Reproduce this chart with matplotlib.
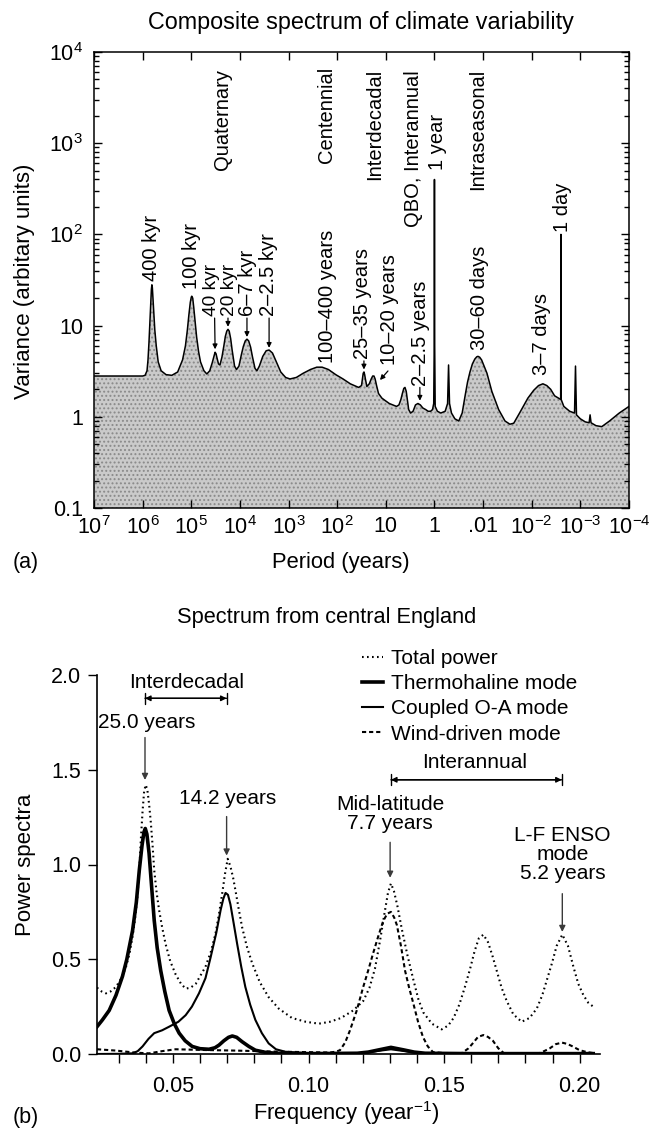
import matplotlib
matplotlib.use("Agg")
import matplotlib.pyplot as plt
import numpy as np
from matplotlib.ticker import FixedLocator, NullLocator, LogLocator, NullFormatter

plt.rcParams['font.family'] = ['Liberation Sans', 'DejaVu Sans']
plt.rcParams['mathtext.fontset'] = 'custom'
plt.rcParams['mathtext.rm'] = 'Liberation Sans'
plt.rcParams['mathtext.it'] = 'Liberation Sans:italic'
plt.rcParams['mathtext.bf'] = 'Liberation Sans:bold'
plt.rcParams['font.size'] = 14.5
plt.rcParams['hatch.linewidth'] = 0.9

# ---- (a) composite spectrum: log10(period in years) and variance
log_period = [
    7.00, 6.00, 5.95, 5.91, 5.89, 5.87, 5.85, 5.83, 5.82, 5.81, 5.80, 5.79, 5.77,
    5.75, 5.72, 5.68, 5.62, 5.52, 5.40, 5.28, 5.18, 5.12, 5.08, 5.05, 5.02, 5.00,
    4.99, 4.97, 4.95, 4.92, 4.89, 4.85, 4.81, 4.74, 4.68, 4.62, 4.57, 4.54, 4.52,
    4.51, 4.49, 4.47, 4.44, 4.41, 4.37, 4.33, 4.30, 4.27, 4.245, 4.22, 4.19, 4.16,
    4.11, 4.07, 4.02, 3.97, 3.93, 3.89, 3.855, 3.82, 3.78, 3.74, 3.69, 3.65, 3.60,
    3.53, 3.46, 3.40, 3.33, 3.25, 3.16, 3.06, 2.97, 2.84, 2.70, 2.55, 2.42, 2.31,
    2.18, 2.03, 1.88, 1.73, 1.56, 1.50, 1.48, 1.465, 1.449, 1.435, 1.42, 1.39,
    1.34, 1.30, 1.27, 1.244, 1.22, 1.19, 1.15, 1.08, 0.93, 0.78, 0.73, 0.69, 0.66,
    0.63, 0.606, 0.58, 0.555, 0.53, 0.49, 0.44, 0.39, 0.34, 0.29, 0.24, 0.18,
    0.13, 0.08, 0.04, 0.015, 0.005, 0.0, -0.005, -0.015, -0.06, -0.13, -0.22,
    -0.27, -0.29, -0.31, -0.35, -0.42, -0.50, -0.57, -0.63, -0.68, -0.73, -0.78,
    -0.83, -0.87, -0.895, -0.93, -0.97, -1.02, -1.08, -1.18, -1.32, -1.45, -1.55,
    -1.63, -1.75, -1.92, -2.04, -2.14, -2.23, -2.31, -2.39, -2.47, -2.55, -2.595,
    -2.60, -2.605, -2.66, -2.78, -2.88, -2.90, -2.92, -3.00, -3.10, -3.18, -3.20,
    -3.22, -3.32, -3.44, -3.60, -3.80, -4.00,
]
variance = [
    2.8, 2.8, 2.85, 3.2, 4.2, 6.5, 11, 19, 25, 28, 26, 21, 14,
    9, 6, 4, 3.2, 2.9, 2.85, 3.1, 4.2, 6, 9, 13, 18, 20.5,
    21, 20, 16, 11, 7.5, 5.2, 4, 3.2, 2.95, 3.2, 3.9, 4.5, 4.9,
    5.1, 4.9, 4.4, 3.8, 3.7, 4.5, 6.0, 7.6, 8.7, 9.1, 8.7, 7.2, 5.4,
    3.6, 3.3, 3.6, 4.8, 5.9, 6.8, 7.1, 6.8, 5.8, 4.5, 3.4, 3.2, 3.6,
    4.6, 5.3, 5.4, 5.0, 4.0, 3.1, 2.7, 2.6, 2.7, 3.0, 3.3, 3.5, 3.5,
    3.3, 2.9, 2.6, 2.3, 2.1, 2.2, 2.6, 3.0, 3.1, 2.9, 2.6, 2.15,
    2.3, 2.6, 2.8, 2.8, 2.6, 2.2, 1.8, 1.6, 1.4, 1.3, 1.35, 1.55, 1.8,
    2.05, 2.1, 1.9, 1.5, 1.2, 1.1, 1.15, 1.35, 1.4, 1.35, 1.25, 1.2,
    1.15, 1.15, 1.2, 1.4, 6, 400, 6, 1.3, 1.15, 1.1, 1.15,
    1.4, 3.7, 1.4, 1.1, 0.95, 0.9, 1.1, 1.7, 2.4, 3.1, 3.8,
    4.3, 4.55, 4.6, 4.5, 4.2, 3.6, 3.0, 1.9, 1.2, 0.9, 0.83,
    0.85, 1.1, 1.6, 1.95, 2.2, 2.3, 2.2, 2.0, 1.7, 1.6, 1.55,
    100, 1.55, 1.3, 1.15, 1.1, 3.6, 1.05, 0.95, 0.88, 0.86, 1.05,
    0.86, 0.8, 0.78, 0.9, 1.1, 1.3,
]

period_ticks = [7, 6, 5, 4, 3, 2, 1, 0, -1, -2, -3, -4]
period_tick_labels = ['$10^7$', '$10^6$', '$10^5$', '$10^4$', '$10^3$', '$10^2$',
                      '10', '1', '.01', '$10^{-2}$', '$10^{-3}$', '$10^{-4}$']
variance_ticks = [0.1, 1, 10, 100, 1000, 10000]
variance_tick_labels = ['0.1', '1', '10', '$10^2$', '$10^3$', '$10^4$']

# ---- (b) spectrum from central England: frequency (1/yr) and power
freq_total = [
    0.022, 0.0237, 0.0253, 0.027, 0.029, 0.031, 0.0327, 0.034, 0.0351, 0.036,
    0.0369, 0.0376, 0.0382, 0.0388, 0.0394, 0.040, 0.0406, 0.0412, 0.0418, 0.0425,
    0.0431, 0.044, 0.0449, 0.046, 0.0473, 0.049, 0.051, 0.053, 0.0547, 0.0565,
    0.0584, 0.060, 0.062, 0.064, 0.0657, 0.067, 0.0682, 0.0692, 0.0702, 0.0712,
    0.0722, 0.0731, 0.0742, 0.0755, 0.0772, 0.0792, 0.082, 0.0853, 0.089, 0.0939,
    0.099, 0.1038, 0.1079, 0.112, 0.1165, 0.1202, 0.1225, 0.1245, 0.1264, 0.128,
    0.1293, 0.1304, 0.1315, 0.1328, 0.1344, 0.1365, 0.1387, 0.1405, 0.1423, 0.1455,
    0.1491, 0.1515, 0.1535, 0.1556, 0.1576, 0.1596, 0.1612, 0.1628, 0.1645, 0.1662,
    0.1678, 0.1694, 0.1712, 0.1731, 0.1755, 0.1786, 0.1815, 0.1842, 0.1862, 0.1879,
    0.1898, 0.1915, 0.1936, 0.1957, 0.1977, 0.1995, 0.2014, 0.2032, 0.2050,
]
power_total = [
    0.35, 0.33, 0.32, 0.33, 0.354, 0.40, 0.46, 0.53, 0.62, 0.71,
    0.83, 0.97, 1.14, 1.28, 1.39, 1.42, 1.39, 1.32, 1.23, 1.10,
    0.97, 0.85, 0.76, 0.67, 0.58, 0.49, 0.42, 0.37, 0.345, 0.35,
    0.37, 0.41, 0.46, 0.54, 0.635, 0.74, 0.85, 0.95, 1.03, 0.99,
    0.93, 0.86, 0.77, 0.67, 0.57, 0.48, 0.38, 0.30, 0.24, 0.19,
    0.17, 0.16, 0.17, 0.19, 0.23, 0.28, 0.35, 0.45, 0.60, 0.74,
    0.85, 0.90, 0.86, 0.78, 0.66, 0.52, 0.39, 0.29, 0.22, 0.16,
    0.13, 0.15, 0.19, 0.26, 0.35, 0.45, 0.54, 0.61, 0.63, 0.59,
    0.52, 0.44, 0.35, 0.28, 0.21, 0.17, 0.19, 0.24, 0.31, 0.39,
    0.48, 0.57, 0.63, 0.57, 0.46, 0.37, 0.31, 0.27, 0.25,
]

freq_thermo = [
    0.022, 0.024, 0.0265, 0.029, 0.0314, 0.033, 0.0351, 0.0365, 0.0376, 0.0386,
    0.0393, 0.0398, 0.0404, 0.0412, 0.042, 0.0431, 0.0442, 0.0455, 0.047, 0.0486,
    0.0505, 0.0523, 0.0545, 0.0571, 0.060, 0.0633, 0.0655, 0.067, 0.0688, 0.0705,
    0.0719, 0.0735, 0.0755, 0.078, 0.0804, 0.084, 0.0878, 0.100, 0.118, 0.122,
    0.126, 0.1304, 0.135, 0.139, 0.143, 0.160, 0.180, 0.2050,
]
power_thermo = [
    0.144, 0.18, 0.23, 0.31, 0.41, 0.50, 0.65, 0.80, 0.97, 1.10,
    1.17, 1.19, 1.16, 1.06, 0.91, 0.705, 0.56, 0.44, 0.33, 0.23,
    0.16, 0.11, 0.07, 0.04, 0.028, 0.025, 0.033, 0.047, 0.07, 0.088,
    0.095, 0.088, 0.065, 0.04, 0.02, 0.009, 0.004, 0.002, 0.004, 0.01,
    0.022, 0.035, 0.022, 0.01, 0.004, 0.002, 0.002, 0.002,
]

freq_coupled = [
    0.022, 0.030, 0.0351, 0.037, 0.0388, 0.041, 0.0431, 0.046, 0.0486, 0.052,
    0.0547, 0.057, 0.0596, 0.062, 0.0639, 0.066, 0.0676, 0.0686, 0.0694, 0.0703,
    0.0712, 0.0724, 0.0737, 0.0752, 0.0767, 0.0785, 0.0804, 0.0828, 0.0853, 0.088,
    0.0914, 0.100, 0.118, 0.122, 0.126, 0.1304, 0.135, 0.139, 0.143, 0.160,
    0.180, 0.2050,
]
power_coupled = [
    0.0, 0.001, 0.0035, 0.015, 0.04, 0.08, 0.11, 0.125, 0.144, 0.17,
    0.205, 0.25, 0.32, 0.40, 0.51, 0.64, 0.76, 0.82, 0.85, 0.84,
    0.79, 0.69, 0.58, 0.46, 0.354, 0.26, 0.18, 0.11, 0.056, 0.025,
    0.012, 0.004, 0.003, 0.008, 0.017, 0.025, 0.016, 0.007, 0.003, 0.002,
    0.002, 0.002,
]

freq_wind = [
    0.022, 0.029, 0.0363, 0.0412, 0.046, 0.051, 0.062, 0.0731, 0.090, 0.1079,
    0.1100, 0.1116, 0.1135, 0.1153, 0.1178, 0.1201, 0.1220, 0.1238, 0.1257, 0.1275,
    0.1290, 0.1304, 0.1316, 0.1326, 0.1341, 0.1356, 0.1371, 0.1386, 0.1404, 0.1422,
    0.1440, 0.1459, 0.150, 0.1566, 0.1590, 0.1608, 0.1625, 0.1645, 0.1662, 0.1680,
    0.1700, 0.1720, 0.1853, 0.1873, 0.1890, 0.1912, 0.1935, 0.1955, 0.1974, 0.2000,
    0.2027, 0.2050,
]
power_wind = [
    0.025, 0.018, 0.007, 0.0035, 0.015, 0.025, 0.021, 0.018, 0.012, 0.008,
    0.012, 0.02, 0.06, 0.125, 0.23, 0.35, 0.44, 0.53, 0.62, 0.70,
    0.74, 0.75, 0.72, 0.68, 0.57, 0.44, 0.35, 0.27, 0.17, 0.09,
    0.04, 0.01, 0.005, 0.005, 0.03, 0.06, 0.09, 0.10, 0.09, 0.07,
    0.03, 0.005, 0.005, 0.018, 0.03, 0.052, 0.06, 0.053, 0.04, 0.02,
    0.01, 0.005,
]

W, H = 659, 1130
fig = plt.figure(figsize=(W / 100, H / 100), dpi=100)

# ---------------- panel (a)
ax1 = fig.add_axes([94 / W, 1 - 508 / H, 535 / W, 456 / H])
period = 10.0 ** np.array(log_period)
ax1.fill_between(period, variance, 0.1, facecolor='#cacaca', edgecolor='#8a8a8a',
                 hatch='....', linewidth=0)
ax1.plot(period, variance, color='black', lw=1.1)
ax1.set_xscale('log')
ax1.set_yscale('log')
ax1.set_xlim(1e7, 1e-4)
ax1.set_ylim(0.1, 1e4)
ax1.xaxis.set_major_locator(FixedLocator([10.0 ** p for p in period_ticks]))
ax1.xaxis.set_minor_locator(NullLocator())
ax1.set_xticklabels(period_tick_labels, fontsize=15.5)
ax1.yaxis.set_major_locator(FixedLocator(variance_ticks))
ax1.yaxis.set_minor_locator(LogLocator(base=10, subs=np.arange(2, 10)))
ax1.yaxis.set_minor_formatter(NullFormatter())
ax1.set_yticklabels(variance_tick_labels, fontsize=15.5)
ax1.tick_params(which='both', direction='in', top=True, right=True, width=1.0)
ax1.tick_params(which='major', length=6)
ax1.tick_params(which='minor', length=3.5)
ax1.tick_params(axis='x', pad=6)
ax1.tick_params(axis='y', pad=8)
for s in ax1.spines.values():
    s.set_linewidth(1.1)

# rotated period labels: (text, log10 period, variance at text foot, size)
top_labels = [
    ("400 kyr", 5.81, 31, 14.5), ("100 kyr", 4.99, 25, 14.5),
    ("40 kyr", 4.585, 12.7, 13.8), ("20 kyr", 4.215, 12.7, 13.8),
    ("6–7 kyr", 3.84, 12.7, 14.5), ("2–2.5 kyr", 3.42, 12.7, 14.5),
    ("Quaternary", 4.35, 508, 14.5), ("Centennial", 2.21, 607, 14.5),
    ("100–400 years", 2.19, 3.9, 14.5), ("25–35 years", 1.47, 4.3, 14.5),
    ("Interdecadal", 1.22, 394, 14.5), ("10–20 years", 0.915, 3.7, 14.5),
    ("QBO, Interannual", 0.44, 120, 14.5), ("1 year", -0.07, 508, 14.5),
    ("2–2.5 years", 0.28, 2.2, 14.5), ("Intraseasonal", -0.895, 307, 14.5),
    ("30–60 days", -0.93, 5.4, 14.5), ("3–7 days", -2.21, 2.87, 14.5),
    ("1 day", -2.64, 105, 14.5),
]
for txt, lp, v, fs in top_labels:
    ax1.text(10.0 ** lp, v, txt, rotation=90, ha='center', va='bottom', fontsize=fs)

top_arrows = [
    ((4.52, 12.1), (4.51, 5.5)), ((4.245, 12.1), (4.245, 9.7)),
    ((3.855, 12.1), (3.855, 7.5)), ((3.40, 12.1), (3.40, 5.7)),
    ((1.45, 4.1), (1.45, 3.3)), ((0.956, 3.18), (1.12, 2.53)),
    ((0.30, 2.1), (0.30, 1.5)),
]
for (lp0, v0), (lp1, v1) in top_arrows:
    ax1.annotate('', xy=(10.0 ** lp1, v1), xytext=(10.0 ** lp0, v0),
                 arrowprops=dict(arrowstyle='-|>', color='black', lw=0.9,
                                 mutation_scale=7, shrinkA=0, shrinkB=0))

fig.text(361 / W, 1 - 22 / H, 'Composite spectrum of climate variability',
         ha='center', va='center', fontsize=16.8)
fig.text(341 / W, 1 - 562 / H, 'Period (years)', ha='center', va='center',
         fontsize=15.8)
fig.text(25 / W, 1 - 281 / H, 'Variance (arbitary units)', rotation=90,
         ha='center', va='center', fontsize=16)
fig.text(26 / W, 1 - 562 / H, '(a)', ha='center', va='center', fontsize=15.5)

# ---------------- panel (b)
ax2 = fig.add_axes([97 / W, 1 - 1054 / H, 503 / W, 379 / H])
ax2.plot(freq_total, power_total, color='black', lw=1.5, linestyle=(0, (0.8, 1.6)),
         label='Total power')
ax2.plot(freq_thermo, power_thermo, color='black', lw=2.6, label='Thermohaline mode')
ax2.plot(freq_coupled, power_coupled, color='black', lw=1.5, label='Coupled O-A mode')
ax2.plot(freq_wind, power_wind, color='black', lw=1.5, linestyle=(0, (2, 1.4)),
         label='Wind-driven mode')
ax2.set_xlim(0.022, 0.2075)
ax2.set_ylim(0, 2.0)
ax2.spines['top'].set_visible(False)
ax2.spines['right'].set_visible(False)
for s in ('left', 'bottom'):
    ax2.spines[s].set_linewidth(1.2)
ax2.xaxis.set_major_locator(FixedLocator([0.05, 0.10, 0.15, 0.20]))
ax2.set_xticklabels(['0.05', '0.10', '0.15', '0.20'], fontsize=15.5)
ax2.xaxis.set_minor_locator(FixedLocator([0.03, 0.04, 0.06, 0.07, 0.08, 0.09, 0.11, 0.12,
                                          0.13, 0.14, 0.16, 0.17, 0.18, 0.19]))
ax2.yaxis.set_major_locator(FixedLocator([0.0, 0.5, 1.0, 1.5, 2.0]))
ax2.set_yticklabels(['0.0', '0.5', '1.0', '1.5', '2.0'], fontsize=15.5)
ax2.tick_params(which='both', direction='out', length=6.5, width=1.0)
ax2.tick_params(axis='x', pad=9)
ax2.tick_params(axis='y', pad=5)

ax2.legend(loc='upper left', bbox_to_anchor=(362 / W, 1 - 649 / H),
           bbox_transform=fig.transFigure, frameon=False, borderpad=0,
           borderaxespad=0, handlelength=1.0, handletextpad=0.4,
           labelspacing=0.3, fontsize=15)

arrow_kw = dict(arrowstyle='-|>', color='#3a3a3a', lw=1.0, mutation_scale=9,
                shrinkA=0, shrinkB=0)
bracket_kw = dict(arrowstyle='<|-|>', color='black', lw=1.0, mutation_scale=8,
                  shrinkA=0, shrinkB=0)
bar_kw = dict(arrowstyle='|-|', color='black', lw=1.0, mutation_scale=4,
              shrinkA=0, shrinkB=0)

ax2.text(0.0552, 1.963, 'Interdecadal', ha='center', va='center', fontsize=15)
ax2.annotate('', xy=(0.0698, 1.877), xytext=(0.0397, 1.877), arrowprops=bracket_kw)
ax2.annotate('', xy=(0.0698, 1.877), xytext=(0.0397, 1.877), arrowprops=bar_kw)
ax2.text(0.0403, 1.749, '25.0 years', ha='center', va='center', fontsize=15)
ax2.annotate('', xy=(0.0397, 1.446), xytext=(0.0397, 1.67), arrowprops=arrow_kw)
ax2.text(0.0701, 1.346, '14.2 years', ha='center', va='center', fontsize=15)
ax2.annotate('', xy=(0.0698, 1.047), xytext=(0.0698, 1.253), arrowprops=arrow_kw)

ax2.text(0.1614, 1.54, 'Interannual', ha='center', va='center', fontsize=15)
ax2.annotate('', xy=(0.1934, 1.447), xytext=(0.1304, 1.447), arrowprops=bracket_kw)
ax2.annotate('', xy=(0.1934, 1.447), xytext=(0.1304, 1.447), arrowprops=bar_kw)
ax2.text(0.1301, 1.265, 'Mid-latitude\n7.7 years', ha='center', va='center',
         linespacing=1.0, fontsize=15)
ax2.annotate('', xy=(0.1301, 0.93), xytext=(0.1301, 1.117), arrowprops=arrow_kw)
ax2.text(0.1937, 1.055, 'L-F ENSO\nmode\n5.2 years', ha='center', va='center',
         linespacing=1.0, fontsize=15)
ax2.annotate('', xy=(0.1936, 0.644), xytext=(0.1936, 0.846), arrowprops=arrow_kw)

fig.text(327 / W, 1 - 617 / H, 'Spectrum from central England', ha='center',
         va='center', fontsize=15.7)
fig.text(346 / W, 1 - 1113 / H, 'Frequency (year$^{-1}$)', ha='center', va='center',
         fontsize=15.8)
fig.text(25 / W, 1 - 865 / H, 'Power spectra', rotation=90, ha='center', va='center',
         fontsize=16)
fig.text(26 / W, 1 - 1118 / H, '(b)', ha='center', va='center', fontsize=15.5)

fig.savefig('out.png', dpi=100)
